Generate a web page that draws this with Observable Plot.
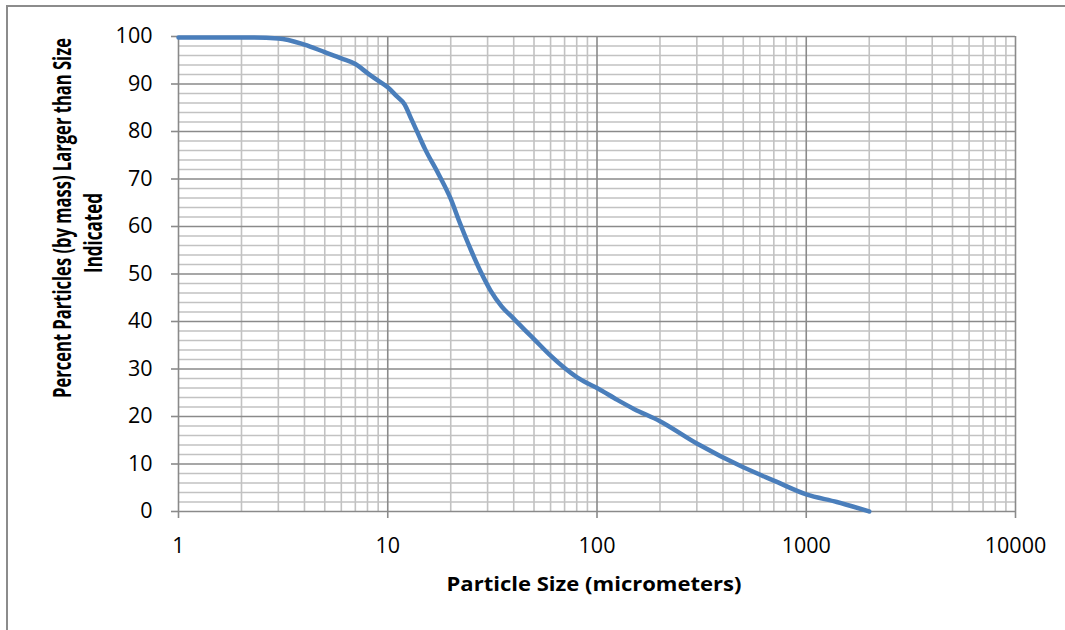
<!DOCTYPE html>
<html>
<head>
<meta charset="utf-8">
<script src="https://cdn.jsdelivr.net/npm/d3@7"></script>
<script src="https://cdn.jsdelivr.net/npm/@observablehq/plot@0.6"></script>
<style>
  html, body { margin: 0; padding: 0; background: #fff; }
  #chart svg { display: block; }
</style>
</head>
<body>
<div id="chart"></div>
<script>
// Particle size (micrometers)
const sizes = [1, 2, 3, 4, 5, 6, 7, 8, 9, 10, 11, 12, 13, 14, 15, 17.5, 20, 22, 25, 28, 31, 35, 40, 45, 50, 60, 70, 80, 90, 100, 125, 150, 200, 300, 500, 700, 1000, 1400, 2000];
// Percent particles (by mass) larger than size indicated
const percents = [99.8, 99.8, 99.6, 98.3, 96.7, 95.4, 94.2, 92.3, 90.7, 89.3, 87.5, 85.8, 82.5, 79.4, 76.5, 71, 65.8, 61, 55, 50.2, 46.5, 43.2, 40.6, 38.3, 36.3, 32.8, 30.2, 28.3, 27, 26, 23.5, 21.6, 19, 14.3, 9.3, 6.5, 3.6, 2, 0];

const xTicks = [1, 10, 100, 1000, 10000];
const yTicks = [0, 10, 20, 30, 40, 50, 60, 70, 80, 90, 100];
const xMinor = [2,3,4,5,6,7,8,9,20,30,40,50,60,70,80,90,200,300,400,500,600,700,800,900,2000,3000,4000,5000,6000,7000,8000,9000];
const yMinor = [2,4,6,8,12,14,16,18,22,24,26,28,32,34,36,38,42,44,46,48,52,54,56,58,62,64,66,68,72,74,76,78,82,84,86,88,92,94,96,98];

const xTitle = "Particle Size (micrometers)";
const yTitle1 = "Percent Particles (by mass) Larger than Size";
const yTitle2 = "Indicated";

const data = sizes.map((s, i) => ({size: s, pct: percents[i]}));

const minorColor = "#c2c2c2";
const majorColor = "#8a8a8a";

const plot = Plot.plot({
  width: 1065,
  height: 630,
  marginLeft: 178,
  marginRight: 50,
  marginTop: 36,
  marginBottom: 119,
  style: {fontFamily: "'Open Sans', sans-serif", background: "#fff", color: "#000"},
  x: {type: "log", domain: [1, 10000]},
  y: {domain: [0, 100]},
  marks: [
    Plot.ruleX(xMinor, {stroke: minorColor, strokeWidth: 1.6}),
    Plot.ruleY(yMinor, {stroke: minorColor, strokeWidth: 1.6}),
    Plot.ruleX(xTicks, {stroke: majorColor, strokeWidth: 1.6}),
    Plot.ruleY(yTicks, {stroke: majorColor, strokeWidth: 1.6}),
    Plot.axisX({ticks: xTicks, tickFormat: d => String(d), tickSize: 7, tickPadding: 19, fontSize: 21.5, stroke: majorColor, strokeWidth: 1.6, label: null, fill: "#000"}),
    Plot.axisY({ticks: yTicks, tickFormat: d => String(d), tickSize: 7, tickPadding: 19, fontSize: 21.5, stroke: majorColor, strokeWidth: 1.6, label: null, fill: "#000"}),
    Plot.line(data, {x: "size", y: "pct", stroke: "#4a7ebb", strokeWidth: 4.5, curve: "monotone-x", strokeLinecap: "round", strokeLinejoin: "round"})
  ]
});

const svg = d3.select(plot);
// outer chart border
svg.insert("rect", ":first-child")
  .attr("x", 7).attr("y", 6).attr("width", 1100).attr("height", 700)
  .attr("fill", "none").attr("stroke", "#8c8c8c").attr("stroke-width", 2);

svg.append("text")
  .attr("x", 594).attr("y", 591)
  .attr("text-anchor", "middle")
  .attr("font-family", "'Open Sans', sans-serif")
  .attr("font-weight", "bold").attr("font-size", 20)
  .attr("textLength", 295).attr("lengthAdjust", "spacingAndGlyphs")
  .text(xTitle);

svg.append("text")
  .attr("transform", "translate(71,218) rotate(-90) scale(1,1.45)")
  .attr("text-anchor", "middle")
  .attr("font-family", "'Open Sans', sans-serif")
  .attr("font-weight", "bold").attr("font-size", 17)
  .attr("textLength", 360).attr("lengthAdjust", "spacingAndGlyphs")
  .text(yTitle1);

svg.append("text")
  .attr("transform", "translate(102,233) rotate(-90) scale(1,1.45)")
  .attr("text-anchor", "middle")
  .attr("font-family", "'Open Sans', sans-serif")
  .attr("font-weight", "bold").attr("font-size", 17)
  .text(yTitle2);

document.getElementById("chart").appendChild(plot);
</script>
</body>
</html>
